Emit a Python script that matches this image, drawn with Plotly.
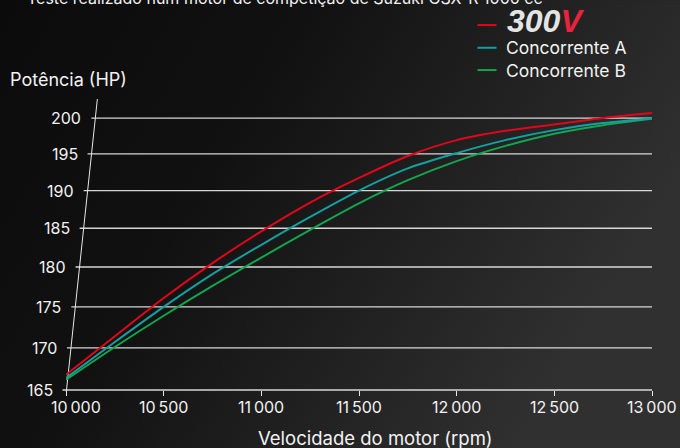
import math
import base64
import plotly.graph_objects as go

# ---------------- data ----------------
rpm = [10000, 10250, 10500, 10750, 11000, 11250, 11500, 11750, 12000, 12250, 12500, 12750, 13000]
power_300v = [166.8, 171.4, 176.1, 180.5, 184.6, 188.4, 191.7, 194.7, 196.9, 198.2, 199.1, 200.0, 200.7]
power_a = [166.4, 170.7, 175.0, 179.1, 182.85, 186.5, 190.0, 193.0, 195.1, 196.9, 198.3, 199.3, 199.95]
power_b = [166.2, 170.1, 173.9, 177.6, 181.2, 184.8, 188.3, 191.4, 194.0, 196.1, 197.8, 199.0, 199.9]

x_ticks = [10000, 10500, 11000, 11500, 12000, 12500, 13000]
x_ticktext = ["10\u2009000", "10\u2009500", "11\u2009000", "11\u2009500", "12\u2009000", "12\u2009500", "13\u2009000"]
y_ticks = [165, 170, 175, 180, 185, 190, 195, 200]

RED = "#e3061b"
TEAL = "#14a0a0"
GREEN = "#12a64e"
FONT = "Inter"

# ---------------- layout geometry ----------------
W, H = 680, 448
L, R = 66, 652              # plot left/right px
B = 390                     # plot bottom px
Y200 = 118                  # pixel of 200 gridline
ylo, yhi = math.log10(165), math.log10(201)
f200 = (math.log10(200) - ylo) / (yhi - ylo)
PH = (B - Y200) / f200
T = B - PH
PW = R - L


def py_of(v):
    return B - (math.log10(v) - ylo) / (yhi - ylo) * PH


def pxx(px):
    return (px - L) / PW


def pyy(py):
    return (B - py) / PH


def axis_px(py):
    return 66.5 + (390 - py) * 0.106


# ---------------- figure ----------------
fig = go.Figure()
for name, vals, col in [("Concorrente B", power_b, GREEN),
                        ("Concorrente A", power_a, TEAL),
                        ("300V", power_300v, RED)]:
    fig.add_trace(go.Scatter(x=rpm, y=vals, name=name, mode="lines",
                             line=dict(color=col, width=2, shape="spline", smoothing=0.8),
                             showlegend=False, hoverinfo="x+y+name"))

shapes = []
annotations = []

# gridlines + y labels
for v in y_ticks:
    py = py_of(v)
    ax = axis_px(py)
    shapes.append(dict(type="line", xref="paper", yref="paper",
                       x0=pxx(ax - 4), x1=pxx(R), y0=pyy(py), y1=pyy(py),
                       line=dict(color="rgba(235,235,235,0.9)", width=1.3), layer="below"))
    annotations.append(dict(text=str(v), xref="paper", yref="paper",
                            x=pxx(ax - 12), y=pyy(py), xanchor="right", yanchor="middle",
                            showarrow=False, font=dict(family=FONT, size=16, color="#f2f2f2")))

# slanted y axis line
shapes.append(dict(type="line", xref="paper", yref="paper",
                   x0=pxx(axis_px(392)), y0=pyy(392), x1=pxx(axis_px(99)), y1=pyy(99),
                   line=dict(color="#e8e8e8", width=1), layer="below"))

# x tick labels
for i, (v, t) in enumerate(zip(x_ticks, x_ticktext)):
    annotations.append(dict(text=t, xref="x", yref="paper", x=v, y=pyy(407.5),
                            xanchor="center", yanchor="middle", xshift=10 if i == 0 else 0,
                            showarrow=False, font=dict(family=FONT, size=16, color="#f2f2f2")))

# axis titles
annotations.append(dict(text="Velocidade do motor (rpm)", xref="paper", yref="paper",
                        x=pxx(375), y=pyy(438), xanchor="center", yanchor="middle",
                        showarrow=False, font=dict(family=FONT, size=18.5, color="#f2f2f2")))
annotations.append(dict(text="Potência (HP)", xref="paper", yref="paper",
                        x=pxx(8), y=pyy(79), xanchor="left", yanchor="middle",
                        showarrow=False, font=dict(family=FONT, size=18, color="#f2f2f2")))

# cut-off title
annotations.append(dict(text="Teste realizado num motor de competição de Suzuki GSX-R 1000 cc",
                        xref="paper", yref="paper", x=pxx(25), y=pyy(-2), xanchor="left",
                        yanchor="middle", showarrow=False,
                        font=dict(family=FONT, size=16, color="#f2f2f2")))

# custom legend
legend_rows = [(25, RED), (47.7, TEAL), (70, GREEN)]
for (ly, col) in legend_rows:
    shapes.append(dict(type="line", xref="paper", yref="paper",
                       x0=pxx(477.5), x1=pxx(496.5), y0=pyy(ly), y1=pyy(ly),
                       line=dict(color=col, width=2)))
annotations.append(dict(text="<b><i>300</i></b><span style='color:#e8233c'><b><i>V</i></b></span>",
                        xref="paper", yref="paper", x=pxx(505), y=pyy(21),
                        xanchor="left", yanchor="middle", showarrow=False,
                        font=dict(family="Liberation Sans", size=32, color="#e4e4e4")))
for (ly, _), name in zip(legend_rows[1:], ["Concorrente A", "Concorrente B"]):
    annotations.append(dict(text=name, xref="paper", yref="paper", x=pxx(504), y=pyy(ly),
                            xanchor="left", yanchor="middle", showarrow=False,
                            font=dict(family=FONT, size=17.5, color="#f2f2f2")))

# gradient background
svg = ('<svg xmlns="http://www.w3.org/2000/svg" width="680" height="448">'
       '<defs><linearGradient id="g" x1="0" y1="0" x2="1" y2="0.4">'
       '<stop offset="0" stop-color="#0b0b0b"/>'
       '<stop offset="0.4" stop-color="#111111"/>'
       '<stop offset="1" stop-color="#303030"/>'
       '</linearGradient></defs><rect width="680" height="448" fill="url(#g)"/></svg>')
src = "data:image/svg+xml;base64," + base64.b64encode(svg.encode()).decode()

fig.update_layout(
    width=W, height=H, autosize=False,
    margin=dict(l=L, r=W - R, t=T, b=H - B, pad=0),
    paper_bgcolor="#141414", plot_bgcolor="rgba(0,0,0,0)",
    images=[dict(source=src, xref="paper", yref="paper", x=pxx(0), y=pyy(0),
                 sizex=W / PW, sizey=H / PH, xanchor="left", yanchor="top",
                 sizing="stretch", layer="below")],
    shapes=shapes, annotations=annotations,
    xaxis=dict(range=[10000, 13000], tickvals=x_ticks, showticklabels=False,
               ticks="outside", ticklen=5, tickwidth=1, tickcolor="#e8e8e8",
               showgrid=False, zeroline=False, showline=False, fixedrange=True),
    yaxis=dict(type="log", range=[ylo, yhi], showticklabels=False, ticks="",
               showgrid=False, zeroline=False, showline=False, fixedrange=True),
    font=dict(family=FONT, color="#f2f2f2"),
    showlegend=False,
)

fig.write_html("out.html", config={"displayModeBar": False},
               post_script="document.body.style.margin='0';document.body.style.overflow='hidden';")
